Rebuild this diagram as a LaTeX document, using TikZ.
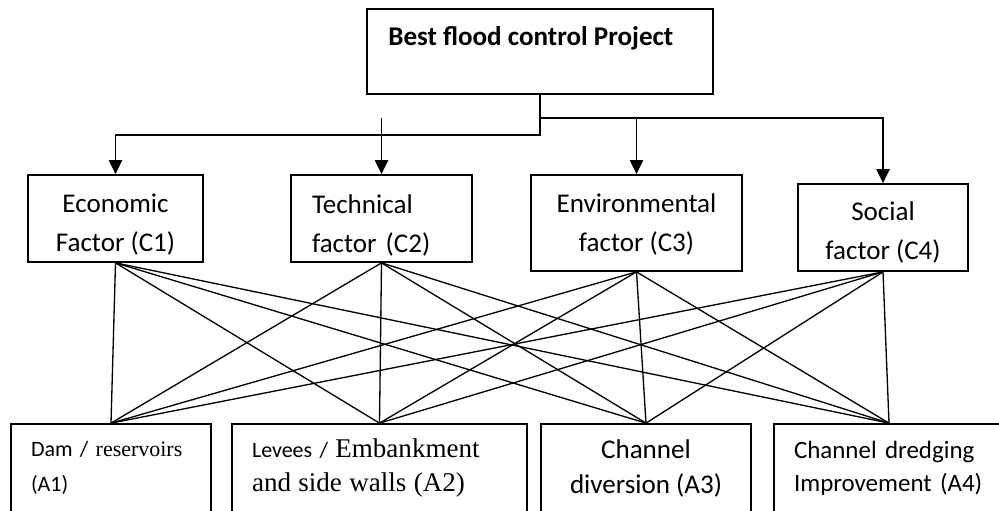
\documentclass[tikz,border=0pt]{standalone}
\usepackage{fontspec}
\setmainfont{Carlito}
\newfontfamily\serifpart{Liberation Serif}
\usetikzlibrary{arrows.meta, positioning}

\newcommand{\crittext}{\fontsize{15.4pt}{22.2pt}\selectfont}
\newcommand{\alttext}{\fontsize{12.5pt}{19.9pt}\selectfont}

\begin{document}
\begin{tikzpicture}[x=0.02cm, y=-0.02cm,
  box/.style={draw, line width=1pt, inner sep=0pt},
  crit/.style={box, minimum height=1.74cm},
  crittxt/.style={inner sep=0pt, font=\crittext, align=center},
  alt/.style={box, minimum height=1.76cm},
  link/.style={line width=0.75pt},
  arrowline/.style={line width=1pt, -{Triangle[length=8pt, width=7.5pt]}}]

  \useasboundingbox (0,0) rectangle (999,510);
  \clip (0,0) rectangle (999,510);

  % Ziel
  \node[box, minimum width=6.92cm, minimum height=1.7cm] (goal) at (540,51.5) {};
  \node[anchor=west, inner sep=0pt, font=\crittext\bfseries] (goaltxt) at (388,38) {Best flood control Project};

  % Kriterien
  \node[crit, minimum width=3.5cm] (c1) at (115.5,218.5) {};
  \node[crit, minimum width=3.62cm] (c2) at (381.5,218.5) {};
  \node[crit, minimum width=4.22cm, minimum height=1.92cm] (c3) at (636.5,223) {};
  \node[crit, minimum width=3.4cm] (c4) at (883,227.5) {};
  \node[crittxt, yshift=-3.7pt] (c1txt) at (c1.center) {Economic\\Factor (C1)};
  \node[crittxt, yshift=-3.7pt, align=left, text width=2.78cm] (c2txt) at (c2.center) {Technical\\factor (C2)};
  \node[crittxt, yshift=-0.6pt] (c3txt) at (c3.center) {Environmental\\factor (C3)};
  \node[crittxt, yshift=-2.8pt] (c4txt) at (c4.center) {Social\\factor (C4)};

  % Alternativen
  \node[alt, minimum width=4cm, text width=3.2cm, align=left, font=\alttext] (a1) at (111,468)
    {Dam / {\serifpart reservoirs}\\(A1)};
  \node[alt, minimum width=5.9cm, text width=5.1cm, align=left, font=\alttext] (a2) at (379.5,468)
    {Levees / {\serifpart\fontsize{15.4pt}{19.9pt}\selectfont Embankment}\\{\serifpart\fontsize{15.4pt}{19.9pt}\selectfont and side walls (A2)}};
  \node[alt, minimum width=4.2cm, align=center, font=\fontsize{15.4pt}{19.9pt}\selectfont] (a3) at (646,468)
    {Channel\\diversion (A3)};
  \node[alt, minimum width=4.6cm, text width=3.8cm, align=left, font=\fontsize{14.2pt}{18.8pt}\selectfont] (a4) at (889,468)
    {Channel dredging\\Improvement (A4)};

  % Ziel -> Kriterien
  \coordinate (split) at (540,118);
  \draw[arrowline] (goal.south) -- ++(0,40) -| (c1.north);
  \draw[arrowline] (split) -| (c4.north);
  \draw[arrowline] (split -| c3.north) -- (c3.north);
  \draw[arrowline] (split -| c2.north) -- (c2.north);

  % jede Alternative mit jedem Kriterium
  \foreach \c in {c1,c2,c3,c4}{
    \foreach \a in {a1,a2,a3,a4}{
      \draw[link] (\c.south) -- (\a.north);
    }
  }
\end{tikzpicture}
\end{document}
